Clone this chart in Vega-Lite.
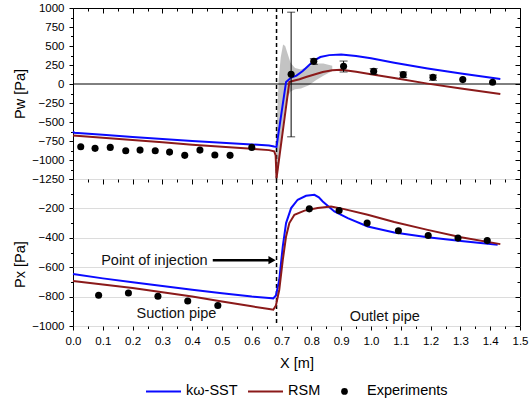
{
  "$schema": "https://vega.github.io/schema/vega-lite/v6.json",
  "padding": {"left": 12, "top": 1, "right": 1, "bottom": 0},
  "background": "white",
  "bounds": "flush",
  "config": {
    "font": "Liberation Sans",
    "view": {"stroke": "black", "strokeWidth": 1},
    "axis": {
      "labelFont": "Liberation Sans", "labelFontSize": 11.5, "labelColor": "#000", "labelFlush": false,
      "titleFont": "Liberation Sans", "titleFontSize": 14.5, "titleFontWeight": "normal", "titleColor": "#000",
      "tickColor": "#000", "domain": false, "gridColor": "#dcdcdc", "gridWidth": 1
    }
  },
  "datasets": {
    "top_lines": [
      {"s": "kω-SST", "x": 0, "y": -625}, {"s": "kω-SST", "x": 0.004, "y": -642}, {"s": "kω-SST", "x": 0.1, "y": -668}, {"s": "kω-SST", "x": 0.2, "y": -697}, {"s": "kω-SST", "x": 0.3, "y": -724}, {"s": "kω-SST", "x": 0.4, "y": -750}, {"s": "kω-SST", "x": 0.5, "y": -774}, {"s": "kω-SST", "x": 0.6, "y": -796}, {"s": "kω-SST", "x": 0.658, "y": -808}, {"s": "kω-SST", "x": 0.675, "y": -822}, {"s": "kω-SST", "x": 0.683, "y": -826}, {"s": "kω-SST", "x": 0.687, "y": -716}, {"s": "kω-SST", "x": 0.715, "y": 27}, {"s": "kω-SST", "x": 0.732, "y": 85}, {"s": "kω-SST", "x": 0.75, "y": 110}, {"s": "kω-SST", "x": 0.771, "y": 170}, {"s": "kω-SST", "x": 0.79, "y": 240}, {"s": "kω-SST", "x": 0.81, "y": 310}, {"s": "kω-SST", "x": 0.83, "y": 355}, {"s": "kω-SST", "x": 0.86, "y": 380}, {"s": "kω-SST", "x": 0.9, "y": 388}, {"s": "kω-SST", "x": 0.95, "y": 368}, {"s": "kω-SST", "x": 1.0, "y": 338}, {"s": "kω-SST", "x": 1.078, "y": 280}, {"s": "kω-SST", "x": 1.19, "y": 205}, {"s": "kω-SST", "x": 1.302, "y": 137}, {"s": "kω-SST", "x": 1.434, "y": 66},
      {"s": "RSM", "x": 0, "y": -677}, {"s": "RSM", "x": 0.1, "y": -707}, {"s": "RSM", "x": 0.2, "y": -738}, {"s": "RSM", "x": 0.3, "y": -768}, {"s": "RSM", "x": 0.4, "y": -798}, {"s": "RSM", "x": 0.5, "y": -826}, {"s": "RSM", "x": 0.6, "y": -852}, {"s": "RSM", "x": 0.658, "y": -870}, {"s": "RSM", "x": 0.675, "y": -885}, {"s": "RSM", "x": 0.68, "y": -940}, {"s": "RSM", "x": 0.683, "y": -1240}, {"s": "RSM", "x": 0.726, "y": 27}, {"s": "RSM", "x": 0.74, "y": 42}, {"s": "RSM", "x": 0.76, "y": 62}, {"s": "RSM", "x": 0.782, "y": 92}, {"s": "RSM", "x": 0.81, "y": 125}, {"s": "RSM", "x": 0.838, "y": 158}, {"s": "RSM", "x": 0.87, "y": 180}, {"s": "RSM", "x": 0.9, "y": 189}, {"s": "RSM", "x": 0.95, "y": 160}, {"s": "RSM", "x": 1.0, "y": 128}, {"s": "RSM", "x": 1.078, "y": 79}, {"s": "RSM", "x": 1.19, "y": 5}, {"s": "RSM", "x": 1.302, "y": -60}, {"s": "RSM", "x": 1.434, "y": -131}
    ],
    "top_exp": [
      {"s": "Experiments", "x": 0.026, "y": -826}, {"s": "Experiments", "x": 0.074, "y": -847}, {"s": "Experiments", "x": 0.125, "y": -834}, {"s": "Experiments", "x": 0.177, "y": -879}, {"s": "Experiments", "x": 0.225, "y": -870}, {"s": "Experiments", "x": 0.276, "y": -879}, {"s": "Experiments", "x": 0.324, "y": -896}, {"s": "Experiments", "x": 0.375, "y": -939}, {"s": "Experiments", "x": 0.426, "y": -870}, {"s": "Experiments", "x": 0.476, "y": -935}, {"s": "Experiments", "x": 0.527, "y": -939}, {"s": "Experiments", "x": 0.6, "y": -834},
      {"s": "Experiments", "x": 0.732, "y": 128}, {"s": "Experiments", "x": 0.808, "y": 298}, {"s": "Experiments", "x": 0.908, "y": 232}, {"s": "Experiments", "x": 1.009, "y": 167}, {"s": "Experiments", "x": 1.108, "y": 123}, {"s": "Experiments", "x": 1.208, "y": 88}, {"s": "Experiments", "x": 1.308, "y": 58}, {"s": "Experiments", "x": 1.408, "y": 23}
    ],
    "top_err": [
      {"x": 0.732, "lo": -695, "hi": 945}, {"x": 0.808, "lo": 259, "hi": 333}, {"x": 0.908, "lo": 158, "hi": 302}, {"x": 1.009, "lo": 127, "hi": 202}, {"x": 1.108, "lo": 84, "hi": 158}, {"x": 1.208, "lo": 49, "hi": 118}
    ],
    "band": [
      {"x": 0.68, "lo": -1250, "hi": -850}, {"x": 0.684, "lo": -1250, "hi": -500}, {"x": 0.69, "lo": -1100, "hi": 50}, {"x": 0.697, "lo": -800, "hi": 350}, {"x": 0.705, "lo": -500, "hi": 520}, {"x": 0.712, "lo": -300, "hi": 500}, {"x": 0.72, "lo": -170, "hi": 400}, {"x": 0.73, "lo": -100, "hi": 280}, {"x": 0.745, "lo": -70, "hi": 210}, {"x": 0.765, "lo": -60, "hi": 190}, {"x": 0.79, "lo": -20, "hi": 230}, {"x": 0.815, "lo": 50, "hi": 270}, {"x": 0.84, "lo": 110, "hi": 270}, {"x": 0.87, "lo": 170, "hi": 240}
    ],
    "bot_lines": [
      {"s": "kω-SST", "x": 0, "y": -646}, {"s": "kω-SST", "x": 0.1, "y": -676}, {"s": "kω-SST", "x": 0.2, "y": -703}, {"s": "kω-SST", "x": 0.3, "y": -728}, {"s": "kω-SST", "x": 0.4, "y": -754}, {"s": "kω-SST", "x": 0.5, "y": -778}, {"s": "kω-SST", "x": 0.6, "y": -800}, {"s": "kω-SST", "x": 0.658, "y": -810}, {"s": "kω-SST", "x": 0.672, "y": -812}, {"s": "kω-SST", "x": 0.681, "y": -792}, {"s": "kω-SST", "x": 0.692, "y": -687}, {"s": "kω-SST", "x": 0.704, "y": -459}, {"s": "kω-SST", "x": 0.715, "y": -300}, {"s": "kω-SST", "x": 0.732, "y": -198}, {"s": "kω-SST", "x": 0.754, "y": -141}, {"s": "kω-SST", "x": 0.782, "y": -114}, {"s": "kω-SST", "x": 0.81, "y": -108}, {"s": "kω-SST", "x": 0.825, "y": -125}, {"s": "kω-SST", "x": 0.838, "y": -153}, {"s": "kω-SST", "x": 0.877, "y": -221}, {"s": "kω-SST", "x": 0.922, "y": -266}, {"s": "kω-SST", "x": 0.989, "y": -323}, {"s": "kω-SST", "x": 1.078, "y": -364}, {"s": "kω-SST", "x": 1.19, "y": -396}, {"s": "kω-SST", "x": 1.302, "y": -421}, {"s": "kω-SST", "x": 1.425, "y": -448},
      {"s": "RSM", "x": 0, "y": -694}, {"s": "RSM", "x": 0.1, "y": -718}, {"s": "RSM", "x": 0.2, "y": -741}, {"s": "RSM", "x": 0.3, "y": -770}, {"s": "RSM", "x": 0.4, "y": -800}, {"s": "RSM", "x": 0.5, "y": -833}, {"s": "RSM", "x": 0.6, "y": -866}, {"s": "RSM", "x": 0.658, "y": -885}, {"s": "RSM", "x": 0.672, "y": -889}, {"s": "RSM", "x": 0.681, "y": -860}, {"s": "RSM", "x": 0.692, "y": -755}, {"s": "RSM", "x": 0.704, "y": -550}, {"s": "RSM", "x": 0.715, "y": -391}, {"s": "RSM", "x": 0.726, "y": -300}, {"s": "RSM", "x": 0.743, "y": -243}, {"s": "RSM", "x": 0.777, "y": -215}, {"s": "RSM", "x": 0.821, "y": -198}, {"s": "RSM", "x": 0.866, "y": -187}, {"s": "RSM", "x": 0.91, "y": -205}, {"s": "RSM", "x": 0.989, "y": -243}, {"s": "RSM", "x": 1.078, "y": -293}, {"s": "RSM", "x": 1.19, "y": -346}, {"s": "RSM", "x": 1.302, "y": -396}, {"s": "RSM", "x": 1.434, "y": -443}
    ],
    "bot_exp": [
      {"s": "Experiments", "x": 0.086, "y": -791}, {"s": "Experiments", "x": 0.186, "y": -776}, {"s": "Experiments", "x": 0.285, "y": -798}, {"s": "Experiments", "x": 0.385, "y": -830}, {"s": "Experiments", "x": 0.486, "y": -860}, {"s": "Experiments", "x": 0.793, "y": -203}, {"s": "Experiments", "x": 0.893, "y": -214}, {"s": "Experiments", "x": 0.987, "y": -300}, {"s": "Experiments", "x": 1.092, "y": -352}, {"s": "Experiments", "x": 1.192, "y": -384}, {"s": "Experiments", "x": 1.292, "y": -402}, {"s": "Experiments", "x": 1.39, "y": -419}
    ],
    "notes": [
      {"x": 0.273, "y": -555, "text": "Point of injection"},
      {"x": 0.347, "y": -918, "text": "Suction pipe"},
      {"x": 1.046, "y": -937, "text": "Outlet pipe"}
    ],
    "arrow": [{"x": 0.469, "x2": 0.668, "y": -552}],
    "inj": [{"x": 0.683}],
    "zero": [{"y": 0}]
  },
  "spacing": 0,
  "resolve": {"scale": {"color": "shared"}, "legend": {"color": "shared"}},
  "vconcat": [
    {
      "width": 447,
      "height": 171,
      "resolve": {"axis": {"x": "independent", "y": "independent"}},
      "layer": [
        {
          "data": {"name": "band"},
          "mark": {"type": "area", "color": "#7a7a7a", "opacity": 0.45},
          "encoding": {
            "x": {"field": "x", "type": "quantitative", "scale": {"domain": [0, 1.5], "nice": false}, "axis": null},
            "y": {"field": "lo", "type": "quantitative", "scale": {"domain": [-1250, 1000], "nice": false}, "axis": null},
            "y2": {"field": "hi"}
          }
        },
        {
          "data": {"name": "zero"},
          "mark": {"type": "rule", "color": "black", "strokeWidth": 1},
          "encoding": {"y": {"field": "y", "type": "quantitative", "axis": null}}
        },
        {
          "data": {"name": "inj"},
          "mark": {"type": "rule", "color": "black", "strokeWidth": 1.5, "strokeDash": [4, 3]},
          "encoding": {"x": {"field": "x", "type": "quantitative", "axis": null}}
        },
        {
          "data": {"name": "top_lines"},
          "mark": {"type": "line", "strokeWidth": 2},
          "encoding": {
            "x": {"field": "x", "type": "quantitative", "scale": {"domain": [0, 1.5], "nice": false},
              "axis": {"orient": "top", "title": null, "values": [0,0.05,0.1,0.15,0.2,0.25,0.3,0.35,0.4,0.45,0.5,0.55,0.6,0.65,0.7,0.75,0.8,0.85,0.9,0.95,1,1.05,1.1,1.15,1.2,1.25,1.3,1.35,1.4,1.45,1.5],
                "labels": false, "tickSize": {"condition": {"test": "round(datum.value*20) % 2 === 0", "value": -5}, "value": -3},
                "gridOpacity": {"condition": {"test": "round(datum.value*20) % 2 === 0", "value": 1}, "value": 0}}},
            "y": {"field": "y", "type": "quantitative", "scale": {"domain": [-1250, 1000], "nice": false},
              "axis": {"orient": "left", "title": "Pw [Pa]", "format": "d", "values": [-1250,-1125,-1000,-875,-750,-625,-500,-375,-250,-125,0,125,250,375,500,625,750,875,1000],
                "labelExpr": "datum.value % 250 === 0 ? datum.label : ''", "labelPadding": 5, "titlePadding": 4,
                "tickSize": {"condition": {"test": "datum.value % 250 === 0", "value": 4}, "value": 2.5},
                "gridOpacity": {"condition": {"test": "datum.value % 250 === 0", "value": 1}, "value": 0}}},
            "color": {"field": "s", "type": "nominal", "scale": {"domain": ["kω-SST", "RSM", "Experiments"], "range": ["#0a0aff", "#8b1a1a", "#000000"]}},
            "detail": {"field": "s"}
          }
        },
        {
          "data": {"name": "top_err"},
          "mark": {"type": "errorbar", "ticks": {"size": 8}, "color": "black"},
          "encoding": {
            "x": {"field": "x", "type": "quantitative", "axis": null},
            "y": {"field": "lo", "type": "quantitative", "axis": null},
            "y2": {"field": "hi"}
          }
        },
        {
          "data": {"name": "top_exp"},
          "mark": {"type": "point", "filled": true, "size": 50, "opacity": 1},
          "encoding": {
            "x": {"field": "x", "type": "quantitative", "axis": null},
            "y": {"field": "y", "type": "quantitative",
              "axis": {"orient": "right", "title": null, "labels": false, "grid": false, "values": [-1250,-1125,-1000,-875,-750,-625,-500,-375,-250,-125,0,125,250,375,500,625,750,875,1000],
                "tickSize": {"condition": {"test": "datum.value % 250 === 0", "value": -5}, "value": -3}}},
            "color": {"field": "s", "type": "nominal"}
          }
        }
      ]
    },
    {
      "width": 447,
      "height": 147,
      "resolve": {"axis": {"x": "independent", "y": "independent"}},
      "layer": [
        {
          "data": {"name": "inj"},
          "mark": {"type": "rule", "color": "black", "strokeWidth": 1.5, "strokeDash": [4, 3]},
          "encoding": {"x": {"field": "x", "type": "quantitative", "scale": {"domain": [0, 1.5], "nice": false}, "axis": null}}
        },
        {
          "data": {"name": "bot_lines"},
          "mark": {"type": "line", "strokeWidth": 2},
          "encoding": {
            "x": {"field": "x", "type": "quantitative", "scale": {"domain": [0, 1.5], "nice": false},
              "axis": {"orient": "bottom", "title": "X [m]", "values": [0,0.05,0.1,0.15,0.2,0.25,0.3,0.35,0.4,0.45,0.5,0.55,0.6,0.65,0.7,0.75,0.8,0.85,0.9,0.95,1,1.05,1.1,1.15,1.2,1.25,1.3,1.35,1.4,1.45,1.5],
                "labelExpr": "round(datum.value*20) % 2 === 0 ? format(datum.value, '.1f') : ''", "labelPadding": 5, "titlePadding": 10,
                "tickSize": {"condition": {"test": "round(datum.value*20) % 2 === 0", "value": 4}, "value": 2.5},
                "gridOpacity": {"condition": {"test": "round(datum.value*20) % 2 === 0", "value": 1}, "value": 0}}},
            "y": {"field": "y", "type": "quantitative", "scale": {"domain": [-1000, 0], "nice": false},
              "axis": {"orient": "left", "title": "Px [Pa]", "format": "d", "titleY": 85, "values": [-1000,-900,-800,-700,-600,-500,-400,-300,-200,-100,0],
                "labelExpr": "datum.value % 200 === 0 && datum.value !== 0 ? datum.label : ''", "labelPadding": 5, "titlePadding": 4,
                "tickSize": {"condition": {"test": "datum.value % 200 === 0", "value": 4}, "value": 2.5},
                "gridOpacity": {"condition": {"test": "datum.value % 200 === 0", "value": 1}, "value": 0}}},
            "color": {"field": "s", "type": "nominal", "scale": {"domain": ["kω-SST", "RSM", "Experiments"], "range": ["#0a0aff", "#8b1a1a", "#000000"]},
              "legend": {"orient": "none", "legendX": 73, "legendY": 376, "direction": "horizontal", "title": null, "padding": 0,
                "labelFont": "Liberation Sans", "labelFontSize": 14.5, "labelColor": "#000", "symbolSize": 1225, "symbolStrokeWidth": 2,
                "columnPadding": 6, "labelOffset": 5,
                "encode": {
                  "symbols": {"update": {
                    "x": {"value": 17.5},
                    "shape": {"signal": "datum.value === 'Experiments' ? 'circle' : 'stroke'"},
                    "size": {"signal": "datum.value === 'Experiments' ? 45 : 1225"},
                    "fill": {"signal": "datum.value === 'Experiments' ? '#000000' : 'transparent'"},
                    "strokeWidth": {"signal": "datum.value === 'Experiments' ? 0 : 2"}
                  }},
                  "labels": {"update": {"x": {"value": 40}}}
                }}},
            "detail": {"field": "s"}
          }
        },
        {
          "data": {"name": "arrow"},
          "mark": {"type": "rule", "color": "black", "strokeWidth": 2.5},
          "encoding": {
            "x": {"field": "x", "type": "quantitative", "axis": null},
            "x2": {"field": "x2"},
            "y": {"field": "y", "type": "quantitative", "axis": null}
          }
        },
        {
          "data": {"name": "arrow"},
          "mark": {"type": "point", "shape": "triangle-right", "filled": true, "color": "black", "size": 70, "opacity": 1},
          "encoding": {
            "x": {"field": "x2", "type": "quantitative", "axis": null},
            "y": {"field": "y", "type": "quantitative", "axis": null}
          }
        },
        {
          "data": {"name": "notes"},
          "mark": {"type": "text", "fontSize": 14.5, "font": "Liberation Sans", "color": "#111", "align": "center", "baseline": "middle"},
          "encoding": {
            "x": {"field": "x", "type": "quantitative", "axis": null},
            "y": {"field": "y", "type": "quantitative", "axis": null},
            "text": {"field": "text"}
          }
        },
        {
          "data": {"name": "bot_exp"},
          "mark": {"type": "point", "filled": true, "size": 50, "opacity": 1},
          "encoding": {
            "x": {"field": "x", "type": "quantitative",
              "axis": {"orient": "top", "title": null, "labels": false, "grid": false, "values": [0,0.05,0.1,0.15,0.2,0.25,0.3,0.35,0.4,0.45,0.5,0.55,0.6,0.65,0.7,0.75,0.8,0.85,0.9,0.95,1,1.05,1.1,1.15,1.2,1.25,1.3,1.35,1.4,1.45,1.5],
                "tickSize": {"condition": {"test": "round(datum.value*20) % 2 === 0", "value": -5}, "value": -3}}},
            "y": {"field": "y", "type": "quantitative",
              "axis": {"orient": "right", "title": null, "labels": false, "grid": false, "values": [-1000,-900,-800,-700,-600,-500,-400,-300,-200,-100,0],
                "tickSize": {"condition": {"test": "datum.value % 200 === 0", "value": -5}, "value": -3}}},
            "color": {"field": "s", "type": "nominal"}
          }
        }
      ]
    }
  ]
}
